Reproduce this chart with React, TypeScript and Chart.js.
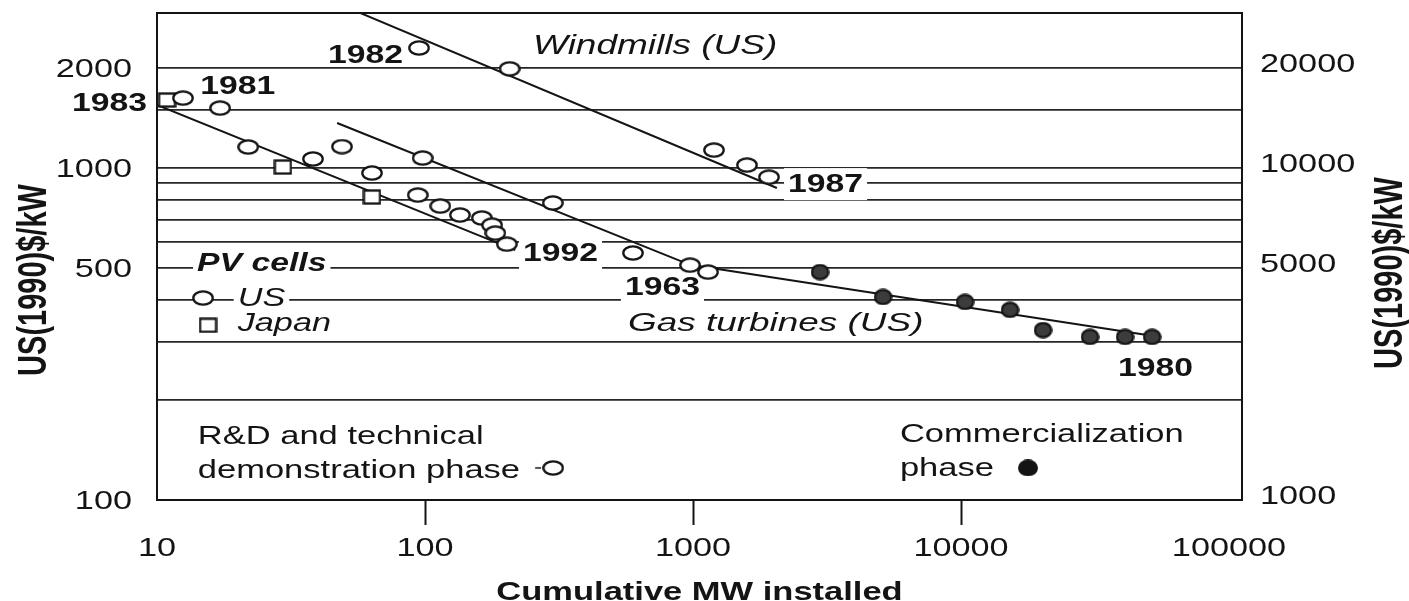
import React, { useEffect, useRef } from 'react';
import { Chart, registerables } from 'chart.js';

Chart.register(...registerables);

// ---------- Data (x: cumulative MW installed, y: US(1990)$/kW) ----------
const windmillX = [95, 207, 1197, 1590, 1921];
const windmillY = [2300, 1990, 1133, 1021, 939];
const windmillTrendX = [54, 2056];
const windmillTrendY = [2993, 871];

const pvUsX = [12.5, 17.2, 21.9, 38.2, 49, 63.4, 94, 114, 135, 163, 178, 183, 202];
const pvUsY = [1625, 1516, 1157, 1065, 1160, 966, 829, 768, 722, 707, 673, 637, 590];
const pvJapanX = [10.9, 29.5, 63.4];
const pvJapanY = [1603, 1007, 818];
const pvTrendX = [10, 217];
const pvTrendY = [1550, 566];

const gasRdX = [98, 300, 597, 975, 1138];
const gasRdY = [1072, 785, 555, 510, 486];
const gasComX = [2979, 5117, 10350, 15240, 20230, 30290, 40930, 51640];
const gasComY = [486, 409, 395, 374, 325, 310, 310, 310];
const gasTrendX = [47, 975, 55300];
const gasTrendY = [1367, 511, 310];

// ---------- Axis ticks ----------
const xTickLabels = [10, 100, 1000, 10000, 100000];
const xTickMarks = [100, 1000, 10000];
const leftTickLabels = [100, 500, 1000, 2000];
const rightTickLabels = [1000, 5000, 10000, 20000];
const xMin = 10, xMax = 111800;
const yMin = 100, yMax = 2932;

// ---------- Annotations (anchored in data coordinates) ----------
type Kind = 'year' | 'wind' | 'gas' | 'pv' | 'ital' | 'plain';
const annotations: { text: string; x: number; y: number; align: 'left' | 'right'; kind: Kind; bg?: boolean }[] = [
  { text: '1982', x: 82.8, y: 2203, align: 'right', kind: 'year' },
  { text: '1981', x: 14.5, y: 1778, align: 'left', kind: 'year' },
  { text: '1983', x: 9.18, y: 1581, align: 'right', kind: 'year' },
  { text: 'Windmills (US)', x: 253, y: 2363, align: 'left', kind: 'wind' },
  { text: '1987', x: 2262, y: 901, align: 'left', kind: 'year', bg: true },
  { text: '1992', x: 232, y: 558, align: 'left', kind: 'year', bg: true },
  { text: '1963', x: 557, y: 441, align: 'left', kind: 'year', bg: true },
  { text: 'Gas turbines (US)', x: 572, y: 344, align: 'left', kind: 'gas' },
  { text: '1980', x: 38530, y: 252, align: 'left', kind: 'year' },
  { text: 'PV cells', x: 14.1, y: 521, align: 'left', kind: 'pv', bg: true },
  { text: 'US', x: 20.0, y: 409, align: 'left', kind: 'ital', bg: true },
  { text: 'Japan', x: 20.0, y: 344, align: 'left', kind: 'ital' },
  { text: 'R&D and technical', x: 14.2, y: 157, align: 'left', kind: 'plain' },
  { text: 'demonstration phase', x: 14.2, y: 124, align: 'left', kind: 'plain' },
  { text: 'Commercialization', x: 5916, y: 159, align: 'left', kind: 'plain' },
  { text: 'phase', x: 5916, y: 125.7, align: 'left', kind: 'plain' },
];

const FF = '"Liberation Sans", Arial, Helvetica, sans-serif';
const kindStyle: Record<Kind, { font: string; size: number; sx: number }> = {
  year: { font: `bold 25px ${FF}`, size: 25, sx: 1.35 },
  wind: { font: `italic 27px ${FF}`, size: 27, sx: 1.37 },
  gas: { font: `italic 26px ${FF}`, size: 26, sx: 1.42 },
  pv: { font: `italic bold 25px ${FF}`, size: 25, sx: 1.35 },
  ital: { font: `italic 25px ${FF}`, size: 25, sx: 1.37 },
  plain: { font: `25px ${FF}`, size: 25, sx: 1.38 },
};

const INK = '#141414';

function drawStretched(
  ctx: CanvasRenderingContext2D, text: string, x: number, cy: number,
  font: string, size: number, sx: number, align: 'left' | 'right' | 'center', bg?: boolean
) {
  ctx.save();
  ctx.font = font;
  const w = ctx.measureText(text).width * sx;
  const left = align === 'left' ? x : align === 'right' ? x - w : x - w / 2;
  const capH = size * 0.72;
  if (bg) {
    ctx.fillStyle = '#ffffff';
    ctx.fillRect(left - 4, cy - capH / 2 - 6, w + 8, capH + 14);
  }
  ctx.translate(left, cy + capH / 2);
  ctx.scale(sx, 1);
  ctx.fillStyle = INK;
  ctx.textAlign = 'left';
  ctx.textBaseline = 'alphabetic';
  ctx.fillText(text, 0, 0);
  ctx.restore();
}

function drawRotated(ctx: CanvasRenderingContext2D, text: string, cx: number, cy: number, font: string, size: number, sy: number) {
  ctx.save();
  ctx.font = font;
  ctx.translate(cx, cy);
  ctx.rotate(-Math.PI / 2);
  ctx.scale(1, sy);
  ctx.fillStyle = INK;
  ctx.textAlign = 'center';
  ctx.textBaseline = 'alphabetic';
  ctx.fillText(text, 0, size * 0.36);
  ctx.restore();
}

function makeMarker(kind: 'open' | 'filled' | 'square' | 'dot'): HTMLCanvasElement {
  const c = document.createElement('canvas');
  let w = 22, h = 16;
  if (kind === 'square') { w = 19; h = 16; }
  if (kind === 'filled') { w = 19; h = 17; }
  if (kind === 'dot') { w = 20; h = 17; }
  c.width = w; c.height = h;
  const g = c.getContext('2d')!;
  g.lineWidth = 2.3;
  g.strokeStyle = INK;
  if (kind === 'square') {
    g.fillStyle = '#fff';
    g.fillRect(1.5, 1.5, w - 3, h - 3);
    g.strokeRect(1.5, 1.5, w - 3, h - 3);
  } else if (kind === 'open') {
    g.fillStyle = '#fff';
    g.beginPath();
    g.ellipse(w / 2, h / 2, w / 2 - 1.3, h / 2 - 1.3, 0, 0, Math.PI * 2);
    g.fill();
    g.stroke();
  } else if (kind === 'filled') {
    g.fillStyle = '#3c3c3c';
    g.beginPath();
    g.ellipse(w / 2, h / 2, w / 2 - 1.3, h / 2 - 1.3, 0, 0, Math.PI * 2);
    g.fill();
    g.stroke();
  } else {
    g.fillStyle = INK;
    g.beginPath();
    g.ellipse(w / 2, h / 2, w / 2, h / 2, 0, 0, Math.PI * 2);
    g.fill();
  }
  return c;
}

const pts = (xs: number[], ys: number[]) => xs.map((x, i) => ({ x, y: ys[i] }));

export default function App() {
  const ref = useRef<HTMLCanvasElement | null>(null);

  useEffect(() => {
    if (!ref.current) return;
    const openM = makeMarker('open');
    const filledM = makeMarker('filled');
    const squareM = makeMarker('square');
    const dotM = makeMarker('dot');

    const textPlugin = {
      id: 'textPlugin',
      beforeDatasetsDraw(chart: any) {
        const { ctx } = chart;
        const sx = chart.scales.x, sy = chart.scales.y;
        for (const a of annotations) {
          const st = kindStyle[a.kind];
          drawStretched(ctx, a.text, sx.getPixelForValue(a.x), sy.getPixelForValue(a.y), st.font, st.size, st.sx, a.align, a.bg);
        }
        // legend markers
        const put = (m: HTMLCanvasElement, vx: number, vy: number) => {
          const px = sx.getPixelForValue(vx), py = sy.getPixelForValue(vy);
          ctx.drawImage(m, px - m.width / 2, py - m.height / 2);
        };
        put(openM, 14.85, 406);
        put(squareM, 15.5, 336);
        // "-o" after "demonstration phase"
        const dx = sx.getPixelForValue(300.7), dy = sy.getPixelForValue(124.9);
        ctx.save();
        ctx.strokeStyle = '#555';
        ctx.lineWidth = 2;
        ctx.beginPath();
        ctx.moveTo(dx - 18, dy);
        ctx.lineTo(dx - 12, dy);
        ctx.stroke();
        ctx.restore();
        put(openM, 300.7, 124.9);
        put(dotM, 17780, 124.9);
      },
      afterDraw(chart: any) {
        const { ctx, chartArea } = chart;
        const sx = chart.scales.x, sy = chart.scales.y, sy1 = chart.scales.y1;
        // frame
        ctx.save();
        ctx.strokeStyle = INK;
        ctx.lineWidth = 2;
        ctx.strokeRect(chartArea.left, chartArea.top, chartArea.right - chartArea.left, chartArea.bottom - chartArea.top);
        ctx.restore();
        const tf = `25px ${FF}`;
        for (const v of leftTickLabels) {
          drawStretched(ctx, String(v), chartArea.left - 25, sy.getPixelForValue(v), tf, 25, 1.37, 'right');
        }
        for (const v of rightTickLabels) {
          drawStretched(ctx, String(v), chartArea.right + 18, sy1.getPixelForValue(v) - 5, tf, 25, 1.37, 'left');
        }
        for (const v of xTickLabels) {
          drawStretched(ctx, String(v), sx.getPixelForValue(v), chartArea.bottom + 47, tf, 25, 1.37, 'center');
        }
        drawStretched(ctx, 'Cumulative MW installed', (chartArea.left + chartArea.right) / 2, chartArea.bottom + 91,
          `bold 25px ${FF}`, 25, 1.38, 'center');
        drawRotated(ctx, 'US(1990)$/kW', 32, 280, `bold 29px ${FF}`, 29, 1.38);
        drawRotated(ctx, 'US(1990)$/kW', 1388, 273, `bold 29px ${FF}`, 29, 1.38);
      },
    };

    const lineDs = (label: string, xs: number[], ys: number[]) => ({
      label,
      data: pts(xs, ys),
      showLine: true,
      borderColor: INK,
      borderWidth: 2,
      pointRadius: 0,
      fill: false,
      order: 2,
    });
    const pointDs = (label: string, xs: number[], ys: number[], style: HTMLCanvasElement) => ({
      label,
      data: pts(xs, ys),
      showLine: false,
      pointStyle: style,
      pointRadius: 9,
      order: 1,
    });

    const chart = new Chart(ref.current, {
      type: 'scatter',
      data: {
        datasets: [
          pointDs('PV cells US', pvUsX, pvUsY, openM),
          pointDs('PV cells Japan', pvJapanX, pvJapanY, squareM),
          pointDs('Windmills (US)', windmillX, windmillY, openM),
          pointDs('Gas turbines R&D', gasRdX, gasRdY, openM),
          pointDs('Gas turbines commercial', gasComX, gasComY, filledM),
          lineDs('Windmills trend', windmillTrendX, windmillTrendY),
          lineDs('PV trend', pvTrendX, pvTrendY),
          lineDs('Gas turbines trend', gasTrendX, gasTrendY),
        ] as any,
      },
      options: {
        animation: false,
        responsive: true,
        maintainAspectRatio: false,
        layout: { padding: { top: 13, left: 0, right: 0, bottom: 0 } },
        plugins: { legend: { display: false }, tooltip: { enabled: false } },
        scales: {
          x: {
            type: 'logarithmic',
            position: 'bottom',
            min: xMin,
            max: xMax,
            afterFit: (s: any) => { s.height = 101; },
            grid: {
              drawOnChartArea: false,
              drawTicks: true,
              tickLength: 25,
              tickWidth: 2,
              tickColor: (c: any) => (c.tick && xTickMarks.includes(c.tick.value) ? INK : 'rgba(0,0,0,0)'),
            },
            border: { display: true, color: INK, width: 2 },
            ticks: { display: false, autoSkip: false },
          },
          y: {
            type: 'logarithmic',
            position: 'left',
            min: yMin,
            max: yMax,
            afterFit: (s: any) => { s.width = 157; },
            grid: {
              drawTicks: false,
              lineWidth: 1.8,
              color: (c: any) => {
                const v = c.tick ? c.tick.value : 0;
                return v > yMin && v <= 2000 ? '#262626' : 'rgba(0,0,0,0)';
              },
            },
            border: { display: true, color: INK, width: 2 },
            ticks: { display: false, autoSkip: false },
          },
          y1: {
            type: 'logarithmic',
            position: 'right',
            min: yMin * 10,
            max: yMax * 10,
            afterFit: (s: any) => { s.width = 167; },
            grid: { display: false, drawTicks: false },
            border: { display: true, color: INK, width: 2 },
            ticks: { display: false },
          },
        },
      } as any,
      plugins: [textPlugin],
    });
    return () => chart.destroy();
  }, []);

  return (
    <div style={{ position: 'absolute', left: 0, top: 0, width: 1409, height: 601, background: '#fff' }}>
      <canvas ref={ref} />
    </div>
  );
}
